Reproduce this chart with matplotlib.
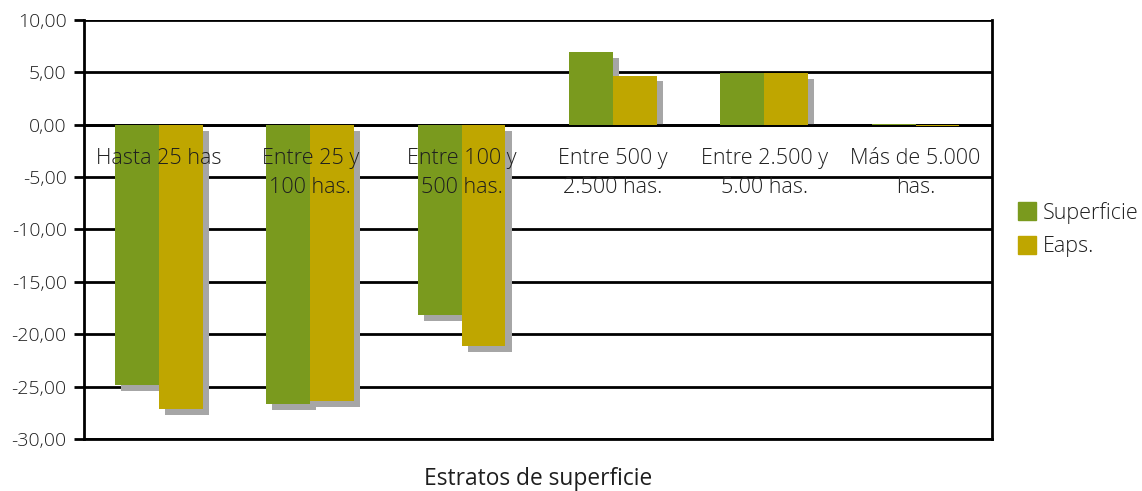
import numpy as np
import matplotlib.pyplot as plt
from matplotlib.ticker import FuncFormatter

# data
categories = ["Hasta 25 has", "Entre 25 y\n100 has.", "Entre 100 y\n500 has.",
              "Entre 500 y\n2.500 has.", "Entre 2.500 y\n5.00 has.", "Más de 5.000\nhas."]
superficie = [-24.8, -26.7, -18.2, 6.95, 4.95, 0.1]
eaps = [-27.1, -26.4, -21.1, 4.7, 4.95, -0.15]
series_names = ["Superficie", "Eaps."]

GREEN = "#7A9A1E"
GOLD = "#BFA600"
SHADOW = "#A6A6A6"
TEXT = "#1E1E1E"

plt.rcParams['font.family'] = ['Open Sans', 'DejaVu Sans']
plt.rcParams['font.weight'] = 'light'

fig = plt.figure(figsize=(11.42, 4.91), dpi=100)
ax = fig.add_axes([0.0736, 0.1059, 0.795, 0.8534])

x = np.arange(len(categories)) + 0.495
w = 0.29
dx, dy = 0.04, 0.57  # shadow offset in data units (~6 px)

for vals, off, col in [(superficie, -w / 2, GREEN), (eaps, w / 2, GOLD)]:
    for xi, v in zip(x + off, vals):
        if v < -dy:
            ax.bar(xi + dx, v, w, bottom=-dy, color=SHADOW, zorder=2, linewidth=0)
        elif v - dy > 0:
            ax.bar(xi + dx, v - dy, w, bottom=0, color=SHADOW, zorder=2, linewidth=0)
    ax.bar(x + off, vals, w, color=col, zorder=3, linewidth=0)

ax.set_xlim(0, 6)
ax.set_ylim(-30, 10)
ax.set_yticks(np.arange(-30, 11, 5))
ax.yaxis.set_major_formatter(FuncFormatter(lambda v, p: f"{v:.2f}".replace(".", ",")))
ax.grid(axis="y", color="black", linewidth=2, zorder=1)
ax.set_axisbelow(True)
ax.set_xticks([])
ax.tick_params(axis="y", length=7.5, width=2, color="black", labelsize=14,
               labelcolor=TEXT, pad=5)
for s in ["left", "bottom", "right"]:
    ax.spines[s].set_linewidth(2)
    ax.spines[s].set_color("black")
ax.spines["top"].set_visible(False)
ax.axhline(0, color="black", linewidth=2, zorder=2.5)

# category labels sit just under the zero line, over the bars
for xi, lab in zip(x, categories):
    ax.text(xi, -2.2, lab, ha="center", va="top", fontsize=15.5, color=TEXT,
            linespacing=1.5, zorder=5)

ax.set_xlabel("Estratos de superficie", fontsize=16.4, color=TEXT, labelpad=20)

handles = [plt.Rectangle((0, 0), 1, 1, color=GREEN), plt.Rectangle((0, 0), 1, 1, color=GOLD)]
fig.legend(handles, series_names, loc="center left", bbox_to_anchor=(0.8745, 0.5326),
           frameon=False, fontsize=15.5, handlelength=0.85, handleheight=0.85,
           handletextpad=0.3, labelspacing=0.6, labelcolor=TEXT)

fig.savefig("out.png", dpi=100)
